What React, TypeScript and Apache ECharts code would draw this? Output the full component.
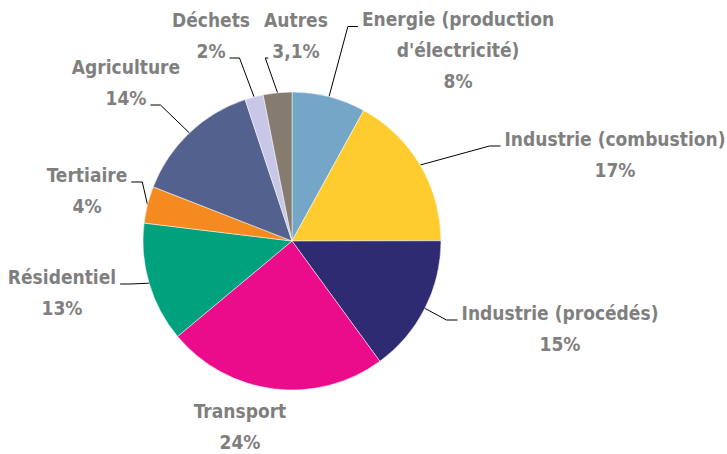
import React, { useEffect, useRef } from "react";
import * as echarts from "echarts";

const categories = [
  "Energie (production\nd'électricité)",
  "Industrie (combustion)",
  "Industrie (procédés)",
  "Transport",
  "Résidentiel",
  "Tertiaire",
  "Agriculture",
  "Déchets",
  "Autres",
];
const values = [8, 17, 15, 24, 13, 4, 14, 2, 3.1];
const valueLabels = ["8%", "17%", "15%", "24%", "13%", "4%", "14%", "2%", "3,1%"];
const colors = [
  "#74A6C8",
  "#FFCC2F",
  "#2F2B73",
  "#EB0C8C",
  "#00A27E",
  "#F58A21",
  "#53618F",
  "#C9C7E7",
  "#857B6E",
];
// label block centres (layout only)
const labelCenters: [number, number][] = [
  [458, 50],
  [615, 154],
  [560, 328],
  [240, 426],
  [62, 292],
  [87, 190],
  [126, 82],
  [211, 35],
  [296, 35],
];
// which text line the leader line attaches to, and the length of its horizontal hook
const attachLine = [0, 0, 0, -1, 0, 0, 1, 1, 1];
const hookLen = [10, 11, 11, 0, 10, 11, 10, 10, 3];

const FONT_FAMILY = "'Liberation Sans Narrow', 'DejaVu Sans Condensed', sans-serif";
const FONT_SIZE = 19;
const LINE_H = 31;
const CX = 292;
const CY = 241;
const R = 149;

export default function App() {
  const ref = useRef<HTMLDivElement>(null);
  useEffect(() => {
    if (!ref.current) return;
    const canvas = document.createElement("canvas");
    const ctx = canvas.getContext("2d")!;
    ctx.font = `bold ${FONT_SIZE}px ${FONT_FAMILY}`;
    const measure = (s: string) => ctx.measureText(s).width;
    const linesOf = (i: number) => [...String(categories[i]).split("\n"), valueLabels[i]];
    const total = values.reduce((a, b) => a + b, 0);
    const midAngle = (i: number) => {
      let acc = 0;
      for (let k = 0; k < i; k++) acc += values[k];
      return ((acc + values[i] / 2) / total) * Math.PI * 2;
    };

    const chart = echarts.init(ref.current, undefined, { renderer: "svg" });
    chart.setOption({
      animation: false,
      backgroundColor: "#ffffff",
      series: [
        {
          type: "pie",
          center: [CX, CY],
          radius: R,
          startAngle: 90,
          clockwise: true,
          avoidLabelOverlap: false,
          itemStyle: { borderColor: "#ffffff", borderWidth: 0.5 },
          label: {
            show: true,
            position: "outside",
            formatter: (p: any) => linesOf(p.dataIndex).map((l) => `{a|${l}}`).join("\n"),
            rich: {
              a: {
                align: "center",
                color: "#7F7F7F",
                fontFamily: FONT_FAMILY,
                fontWeight: "bold",
                fontSize: FONT_SIZE,
                lineHeight: LINE_H,
              },
            },
          },
          labelLine: {
            show: true,
            length: 10,
            length2: 6,
            lineStyle: { color: "#000000", width: 1 },
          },
          labelLayout: (params: any) => {
            const i = params.dataIndex;
            const [lx, ly] = labelCenters[i];
            const res: any = { x: lx, y: ly, align: "center", verticalAlign: "middle" };
            if (attachLine[i] < 0) return res;
            const lines = linesOf(i);
            const top = ly - (lines.length * LINE_H) / 2;
            let p0 = params.labelLinePoints && params.labelLinePoints[0];
            if (!p0) {
              const a = midAngle(i);
              p0 = [CX + R * Math.sin(a), CY - R * Math.cos(a)];
            }
            const w = measure(lines[attachLine[i]]);
            const side = p0[0] > lx ? 1 : -1;
            const ax = lx + side * (w / 2 + 4);
            const ay = top + attachLine[i] * LINE_H + 23;
            const ex = ax + side * hookLen[i];
            res.labelLinePoints = [
              [p0[0], p0[1]],
              [ex, ay],
              [ax, ay],
            ];
            return res;
          },
          data: categories.map((name, i) => ({
            name,
            value: values[i],
            itemStyle: { color: colors[i] },
            labelLine: { show: attachLine[i] >= 0 },
          })),
        },
      ],
    });
    return () => chart.dispose();
  }, []);
  return (
    <div
      ref={ref}
      style={{ position: "fixed", left: 0, top: 0, width: 727, height: 454 }}
    />
  );
}
